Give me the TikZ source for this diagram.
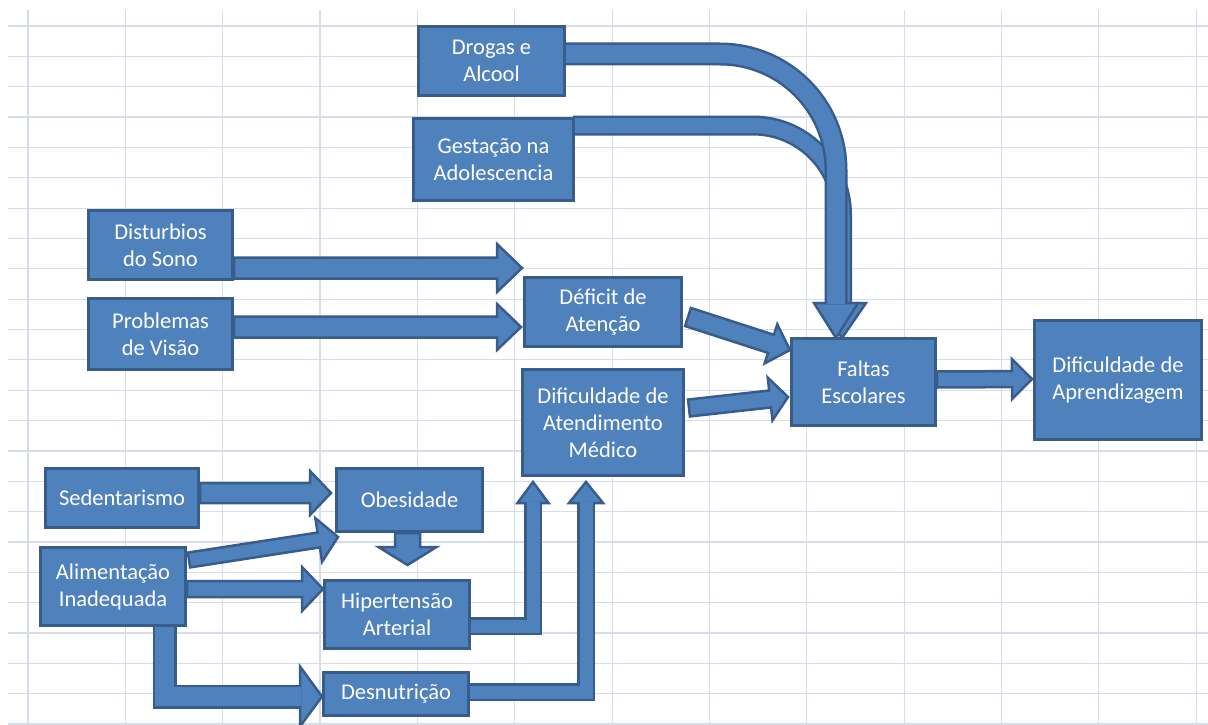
\documentclass[tikz,border=0pt]{standalone}
\usepackage{fontspec}
\setmainfont{Carlito}
\usetikzlibrary{calc}
\definecolor{boxfill}{HTML}{4F81BD}
\definecolor{boxline}{HTML}{385D8A}
\definecolor{gridc}{HTML}{D6DCE9}
\pgfdeclarelayer{gridlayer}
\pgfdeclarelayer{arrowlayer}
\pgfsetlayers{gridlayer,arrowlayer,main}
\tikzset{
  box/.style={draw=boxline, fill=boxfill, line width=3pt, text=white, align=center,
    inner sep=0pt, font=\fontsize{22.5}{27}\selectfont},
  arrbody/.style={draw=boxline, fill=boxfill, line width=2.5pt, line join=miter},
  shaft/.style={draw=boxline, line width=2.5pt, double=boxfill, double distance=#1, line join=miter},
  gridline/.style={draw=gridc, line width=1.2pt}
}
% straight block arrow: start, tip, shaft half-width, head half-width, head length
\newcommand{\sarrow}[5]{%
  \path #1 coordinate (sa) #2 coordinate (sb);
  \path ($(sb)!#5!(sa)$) coordinate (sh);
  \filldraw[arrbody] ($(sa)!#3!90:(sb)$) -- ($(sh)!#3!90:(sb)$) -- ($(sh)!#4!90:(sb)$) -- (sb)
    -- ($(sh)!#4!-90:(sb)$) -- ($(sh)!#3!-90:(sb)$) -- ($(sa)!#3!-90:(sb)$) -- cycle;}
% arrow head: base, tip, half-width
\newcommand{\ahead}[3]{%
  \filldraw[arrbody] ($#1!#3!90:#2$) -- #2 -- ($#1!#3!-90:#2$) -- cycle;}
\begin{document}
\begin{tikzpicture}[x=1pt,y=-1pt]
\useasboundingbox (0,0) rectangle (1208,725);

% boxes
\node[box, minimum width=146pt, minimum height=69pt] (drog) at (491.5,61) {Drogas e\\Alcool};
\node[box, minimum width=160pt, minimum height=82pt] (gest) at (493.5,159.5) {Gestação na\\Adolescencia};
\node[box, minimum width=144pt, minimum height=69pt] (dist) at (160.5,245) {Disturbios\\do Sono};
\node[box, minimum width=144pt, minimum height=71pt] (prob) at (160.5,334) {Problemas\\de Visão};
\node[box, minimum width=157pt, minimum height=69pt] (def) at (603,312) {Déficit de\\Atenção};
\node[box, minimum width=161pt, minimum height=106pt] (aten) at (603,422.5) {Dificuldade de\\Atendimento\\Médico};
\node[box, minimum width=144pt, minimum height=87pt] (falt) at (863.5,382) {Faltas\\Escolares};
\node[box, minimum width=167pt, minimum height=119pt] (apre) at (1118,380) {Dificuldade de\\Aprendizagem};
\node[box, minimum width=153pt, minimum height=59pt] (sed) at (122,498) {Sedentarismo};
\node[box, minimum width=146pt, minimum height=63pt] (obe) at (409.5,500) {Obesidade};
\node[box, minimum width=145pt, minimum height=78pt] (ali) at (113,586.5) {Alimentação\\Inadequada};
\node[box, minimum width=145pt, minimum height=68pt] (hip) at (397,614.5) {Hipertensão\\Arterial};
\node[box, minimum width=145pt, minimum height=43pt] (des) at (396,694) {Desnutrição};

% grid
\begin{pgfonlayer}{gridlayer}
\fill[white] (0,0) rectangle (1208,725);
\foreach \i in {0,...,12} \draw[gridline] ({28+97.35*\i},10) -- ({28+97.35*\i},725);
\foreach \j in {0,...,23} \draw[gridline] (8,{26+30.35*\j}) -- (1208,{26+30.35*\j});
\end{pgfonlayer}

% connectors
\begin{pgfonlayer}{arrowlayer}
% Gestacao -> Faltas
\coordinate (gfT) at ($(falt.north)+(-21.5,1)$);
\coordinate (gfB) at ($(gfT)+(0,-35)$);
\ahead{(gfB)}{(gfT)}{24pt}
\draw[shaft=15pt, rounded corners=89pt] ($(gest.east)+(-2,-34)$) -| ($(gfB)+(0,1)$);
% Drogas -> Faltas
\coordinate (dfT) at ($(falt.north)+(-27.5,1)$);
\coordinate (dfB) at ($(dfT)+(0,-35)$);
\ahead{(dfB)}{(dfT)}{22pt}
\draw[shaft=18pt, rounded corners=116pt] ($(drog.east)+(-2,-7)$) -| ($(dfB)+(0,1)$);
% straight arrows
\sarrow{($(dist.east)+(0,23)$)}{($(def.west)+(-1,-44)$)}{10.5pt}{24pt}{25pt}
\sarrow{($(prob.east)+(0,-7)$)}{($(def.west)+(-2,15)$)}{10.5pt}{23pt}{24pt}
\sarrow{($(def.east)+(5,5)$)}{($(falt.west)+(0,-32)$)}{9.5pt}{20.5pt}{20pt}
\sarrow{($(aten.east)+(4,-14.5)$)}{($(falt.west)+(-2,15)$)}{8.5pt}{21.5pt}{18pt}
\sarrow{($(falt.east)+(0,-2.5)$)}{($(apre.west)+(-1,-1)$)}{8pt}{20pt}{20pt}
\sarrow{($(sed.east)+(0,-5)$)}{($(obe.west)+(-4,-7)$)}{10pt}{22pt}{21pt}
\sarrow{($(ali.east)+(2,-26.5)$)}{($(obe.west)+(3,37)$)}{7.5pt}{22pt}{19.5pt}
\sarrow{($(ali.east)+(0,2.5)$)}{($(hip.west)+(0,-25.5)$)}{8pt}{22pt}{21pt}
\sarrow{($(obe.south)+(-2,0)$)}{($(hip.north)+(10.5,-14)$)}{12.5pt}{29pt}{18pt}
% Alimentacao -> Desnutricao
\coordinate (adT) at ($(des.west)+(0,2.5)$);
\coordinate (adB) at ($(adT)+(-22,0)$);
\ahead{(adB)}{(adT)}{30pt}
\draw[shaft=19pt] ($(ali.south)+(51.5,0)$) |- ($(adB)+(1,0)$);
% Hipertensao -> Atendimento
\coordinate (haT) at ($(aten.south)+(-70,5)$);
\coordinate (haB) at ($(haT)+(0,21)$);
\ahead{(haB)}{(haT)}{15.5pt}
\draw[shaft=13pt] ($(hip.east)+(0,11.5)$) -| ($(haB)+(0,-1)$);
% Desnutricao -> Atendimento
\coordinate (daT) at ($(aten.south)+(-17,5)$);
\coordinate (daB) at ($(daT)+(0,21)$);
\ahead{(daB)}{(daT)}{17pt}
\draw[shaft=13pt] ($(des.east)+(0,-2)$) -| ($(daB)+(0,-1)$);
\end{pgfonlayer}
\end{tikzpicture}
\end{document}
